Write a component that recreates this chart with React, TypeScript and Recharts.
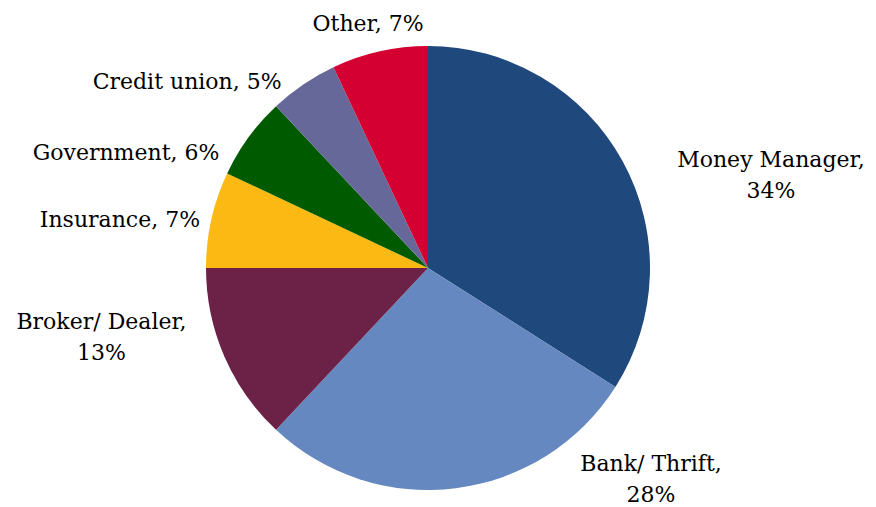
import React from "react";
import { PieChart, Pie, Cell } from "recharts";

const categories = ["Money Manager", "Bank/ Thrift", "Broker/ Dealer", "Insurance", "Government", "Credit union", "Other"];
const shares = [34, 28, 13, 7, 6, 5, 7];
const colors = ["#1F497D", "#6488BF", "#6B2246", "#FDB913", "#005A00", "#67689A", "#D40032"];

// label placement: polar position of label block centre (deg clockwise from 12 o'clock, distance as multiple of radius), and wrapping
const labelLayout = [
  { angle: 74.9, dist: 1.6, wrap: true },
  { angle: 133.35, dist: 1.3815, wrap: true },
  { angle: 258.1, dist: 1.503, wrap: true },
  { angle: 279, dist: 1.405, wrap: false },
  { angle: 291, dist: 1.457, wrap: false },
  { angle: 307.7, dist: 1.371, wrap: false },
  { angle: 346.2, dist: 1.132, wrap: false },
];

const data = categories.map((name, i) => ({ name, value: shares[i] }));

const FONT = "'DejaVu Serif', serif";

const renderLabel = (props: any) => {
  const { cx, cy, outerRadius, index, name, value } = props;
  const lay = labelLayout[index];
  const rad = (lay.angle * Math.PI) / 180;
  const d = outerRadius * lay.dist;
  const x = cx + d * Math.sin(rad);
  const y = cy - d * Math.cos(rad);
  const lineH = 31;
  if (lay.wrap) {
    return (
      <text x={x} y={y} textAnchor="middle" fill="#000" fontFamily={FONT} fontSize={22}>
        <tspan x={x} y={y - lineH / 2} dominantBaseline="central">{name + ","}</tspan>
        <tspan x={x} y={y + lineH / 2} dominantBaseline="central">{value + "%"}</tspan>
      </text>
    );
  }
  return (
    <text x={x} y={y} textAnchor="middle" dominantBaseline="central" fill="#000" fontFamily={FONT} fontSize={22}>
      {name + ", " + value + "%"}
    </text>
  );
};

export default function App() {
  return (
    <div style={{ position: "absolute", left: 0, top: 0, width: 876, height: 507, background: "#fff" }}>
      <PieChart width={876} height={507} margin={{ top: 0, right: 0, bottom: 0, left: 0 }}>
        <Pie
          data={data}
          dataKey="value"
          nameKey="name"
          cx={428}
          cy={268}
          outerRadius={222}
          startAngle={90}
          endAngle={-270}
          stroke="none"
          isAnimationActive={false}
          label={renderLabel}
          labelLine={false}
        >
          {data.map((d, i) => (
            <Cell key={d.name} fill={colors[i]} />
          ))}
        </Pie>
      </PieChart>
    </div>
  );
}
